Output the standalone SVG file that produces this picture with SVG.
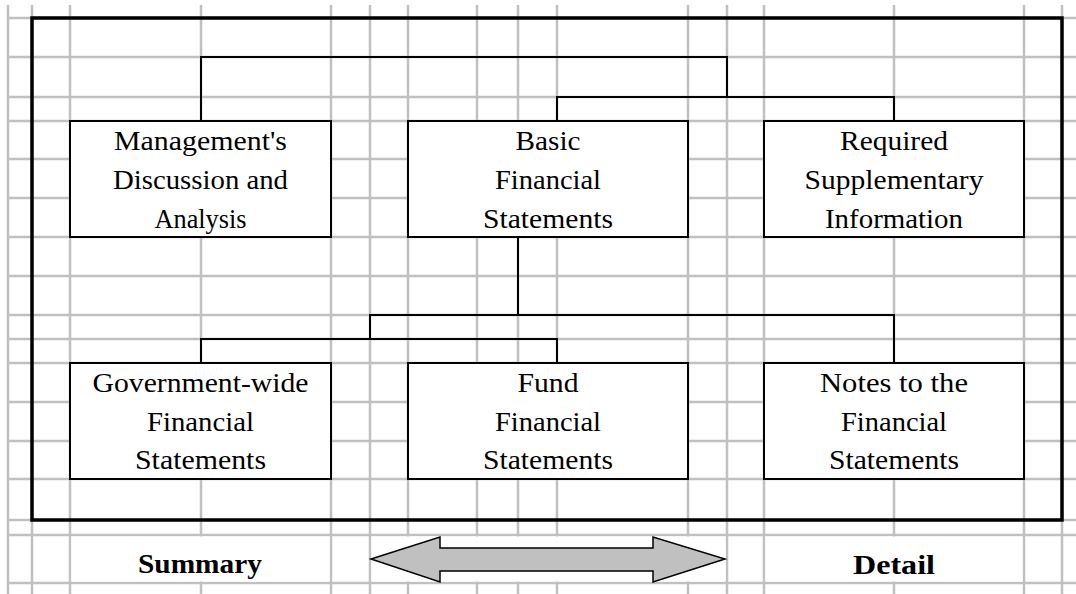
<svg xmlns="http://www.w3.org/2000/svg" width="1076" height="594" viewBox="0 0 1076 594">
  <style>
    .grid { stroke: #c0c0c0; stroke-width: 2.5; fill: none; }
    .cover { fill: #ffffff; stroke: none; }
    .frame { fill: none; stroke: #000000; stroke-width: 3.5; }
    .box { fill: #ffffff; stroke: #000000; stroke-width: 2; }
    .conn { fill: none; stroke: #000000; stroke-width: 2; }
    .arrow { fill: #c0c0c0; stroke: #000000; stroke-width: 1.5; stroke-linejoin: miter; }
    .lbl { font-family: "Liberation Serif", "Times New Roman", serif; font-size: 27px; fill: #000000; text-anchor: middle; }
    .bold { font-family: "Liberation Serif", "Times New Roman", serif; font-size: 28px; font-weight: bold; fill: #000000; text-anchor: middle; }
  </style>
  <rect x="0" y="0" width="1076" height="594" fill="#ffffff"/>
  <g id="grid" class="grid">
    <path d="M8,18H1076 M8,57H1076 M8,97H1076 M8,121H1076 M8,159H1076 M8,198H1076 M8,237H1076 M8,276H1076 M8,315H1076 M8,339H1076 M8,363H1076 M8,402H1076 M8,441H1076 M8,479H1076 M8,520H1076 M8,535H1076 M8,583H1076"/>
    <path d="M8,5V594 M32,5V594 M70,5V594 M201,5V594 M331,5V594 M370,5V594 M408,5V594 M477,5V594 M518,5V594 M557,5V594 M688,5V594 M727,5V594 M764,5V594 M894,5V594 M1024,5V594 M1062,5V594"/>
  </g>
  <g id="cells">
    <rect class="cover" x="71.5" y="536.5" width="258" height="45"/>
    <rect class="cover" x="371.5" y="536.5" width="354" height="45"/>
    <rect class="cover" x="765.5" y="536.5" width="257" height="45"/>
  </g>
  <rect id="frame" class="frame" x="32" y="18" width="1030" height="502"/>
  <g id="connectors" class="conn">
    <path d="M201,121V57H727V97"/>
    <path d="M557,121V97H894V121"/>
    <path d="M518,237V315"/>
    <path d="M370,339V315H894V363"/>
    <path d="M201,363V339H557V363"/>
  </g>
  <g id="mdna">
    <rect class="box" x="70" y="121" width="261" height="116"/>
    <text class="lbl" x="200.5" y="149.5" textLength="173" lengthAdjust="spacingAndGlyphs">Management's</text>
    <text class="lbl" x="200.5" y="189" textLength="175" lengthAdjust="spacingAndGlyphs">Discussion and</text>
    <text class="lbl" x="200.5" y="228" textLength="92" lengthAdjust="spacingAndGlyphs">Analysis</text>
  </g>
  <g id="basic">
    <rect class="box" x="408" y="121" width="280" height="116"/>
    <text class="lbl" x="548" y="149.5" textLength="65" lengthAdjust="spacingAndGlyphs">Basic</text>
    <text class="lbl" x="548" y="189" textLength="106" lengthAdjust="spacingAndGlyphs">Financial</text>
    <text class="lbl" x="548" y="228" textLength="130" lengthAdjust="spacingAndGlyphs">Statements</text>
  </g>
  <g id="rsi">
    <rect class="box" x="764" y="121" width="260" height="116"/>
    <text class="lbl" x="894" y="149.5" textLength="108" lengthAdjust="spacingAndGlyphs">Required</text>
    <text class="lbl" x="894" y="189" textLength="179" lengthAdjust="spacingAndGlyphs">Supplementary</text>
    <text class="lbl" x="894" y="228" textLength="138" lengthAdjust="spacingAndGlyphs">Information</text>
  </g>
  <g id="govwide">
    <rect class="box" x="70" y="363" width="261" height="116"/>
    <text class="lbl" x="200.5" y="392" textLength="216" lengthAdjust="spacingAndGlyphs">Government-wide</text>
    <text class="lbl" x="200.5" y="431" textLength="107" lengthAdjust="spacingAndGlyphs">Financial</text>
    <text class="lbl" x="200.5" y="469" textLength="131" lengthAdjust="spacingAndGlyphs">Statements</text>
  </g>
  <g id="fund">
    <rect class="box" x="408" y="363" width="280" height="116"/>
    <text class="lbl" x="548" y="392" textLength="61" lengthAdjust="spacingAndGlyphs">Fund</text>
    <text class="lbl" x="548" y="431" textLength="106" lengthAdjust="spacingAndGlyphs">Financial</text>
    <text class="lbl" x="548" y="469" textLength="130" lengthAdjust="spacingAndGlyphs">Statements</text>
  </g>
  <g id="notes">
    <rect class="box" x="764" y="363" width="260" height="116"/>
    <text class="lbl" x="894" y="392" textLength="148" lengthAdjust="spacingAndGlyphs">Notes to the</text>
    <text class="lbl" x="894" y="431" textLength="106" lengthAdjust="spacingAndGlyphs">Financial</text>
    <text class="lbl" x="894" y="469" textLength="130" lengthAdjust="spacingAndGlyphs">Statements</text>
  </g>
  <g id="scale">
    <text class="bold" x="200" y="573" textLength="124" lengthAdjust="spacingAndGlyphs">Summary</text>
    <polygon class="arrow" points="371,559 440,537 440,548 653,548 653,537 725,559 653,582 653,571 440,571 440,582"/>
    <text class="bold" x="894" y="574" textLength="82" lengthAdjust="spacingAndGlyphs">Detail</text>
  </g>
</svg>
